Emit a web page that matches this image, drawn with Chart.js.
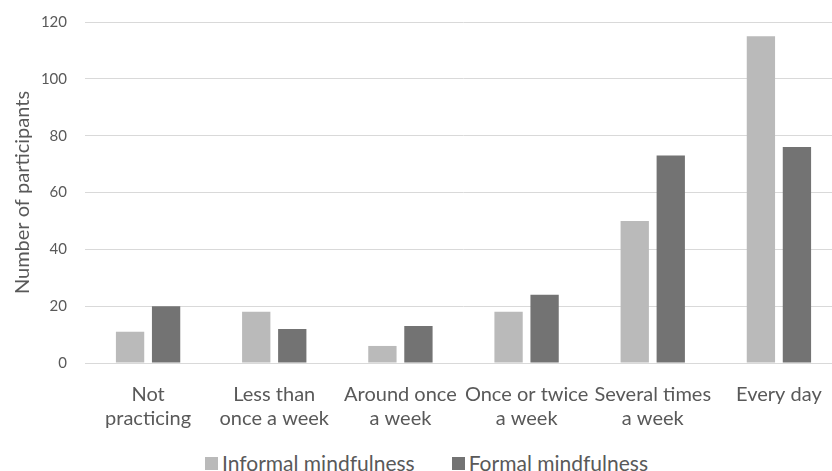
<!DOCTYPE html>
<html>
<head>
<meta charset="utf-8">
<script src="https://cdn.jsdelivr.net/npm/chart.js@4"></script>
<style>
    html, body { margin: 0; padding: 0; background: #ffffff; overflow: hidden; }
    #wrap { position: relative; width: 832px; height: 471px; overflow: hidden; }
    /* the original picture is cropped on the right: draw a bit wider and let the wrapper cut it */
    #area { width: 842px; height: 433px; }
    #legenda {
        position: absolute; left: 0; top: 450px; width: 853px;
        display: flex; justify-content: center; align-items: center;
        font-family: Lato, "Open Sans", sans-serif; font-size: 21px; color: #595959;
        line-height: 26px; white-space: nowrap;
    }
    .item { display: flex; align-items: center; }
    .item + .item { margin-left: 37px; }
    .caixa { width: 13px; height: 13px; margin-right: 4px; }
</style>
</head>
<body>
<div id="wrap">
    <div id="area"><canvas id="grafico"></canvas></div>
    <div id="legenda"></div>
</div>
<script>
// frequency categories (x axis)
const categorias = [
    ["Not", "practicing"],
    ["Less than", "once a week"],
    ["Around once", "a week"],
    ["Once or twice", "a week"],
    ["Several times", "a week"],
    ["Every day"]
];

// participants per practice type
const informal = [11, 18, 6, 18, 50, 115];
const formal = [20, 12, 13, 24, 73, 76];

const seriesNomes = ["Informal mindfulness", "Formal mindfulness"];
const seriesCores = ["#bababa", "#737373"];

const FONTE = "Lato, 'Open Sans', sans-serif";
const TEXTO = "#595959";

const ctx = document.getElementById("grafico");

const grafico = new Chart(ctx, {
    type: "bar",
    data: {
        labels: categorias,
        datasets: [{
            label: seriesNomes[0],
            data: informal,
            backgroundColor: seriesCores[0],
            borderWidth: 0
        }, {
            label: seriesNomes[1],
            data: formal,
            backgroundColor: seriesCores[1],
            borderWidth: 0
        }]
    },
    options: {
        responsive: true,
        maintainAspectRatio: false,
        animation: false,
        datasets: {
            bar: {
                categoryPercentage: 0.571,
                barPercentage: 0.786
            }
        },
        layout: {
            padding: { top: 0, right: 0, left: 11, bottom: 0 }
        },
        plugins: {
            legend: { display: false },
            tooltip: { enabled: false }
        },
        scales: {
            x: {
                grid: { display: false },
                border: { color: "#d9d9d9" },
                ticks: {
                    color: TEXTO,
                    font: { family: FONTE, size: 20, lineHeight: 1.2 },
                    autoSkip: false,
                    maxRotation: 0,
                    padding: 12
                },
                afterFit: (eixo) => {
                    eixo.height = 70;
                    eixo.paddingRight = 0;
                }
            },
            y: {
                min: 0,
                max: 120,
                ticks: {
                    stepSize: 20,
                    color: TEXTO,
                    font: { family: FONTE, size: 15 },
                    padding: 18
                },
                grid: { color: "#d9d9d9", drawTicks: false },
                border: { display: false },
                title: {
                    display: true,
                    text: "Number of participants",
                    color: TEXTO,
                    font: { family: FONTE, size: 20 },
                    padding: 0
                },
                afterFit: (eixo) => {
                    eixo.width = 74;
                    eixo.paddingTop = 22;
                }
            }
        }
    }
});

// html legend built from the chart's own legend items
function renderLegenda(chart) {

    const container = document.getElementById("legenda");
    container.innerHTML = "";

    const itens = chart.options.plugins.legend.labels.generateLabels(chart);

    itens.forEach(it => {

        const item = document.createElement("div");
        item.className = "item";

        item.innerHTML = `<span class="caixa" style="background:${it.fillStyle}"></span><span>${it.text}</span>`;

        container.appendChild(item);

    });

}

renderLegenda(grafico);
</script>
</body>
</html>
